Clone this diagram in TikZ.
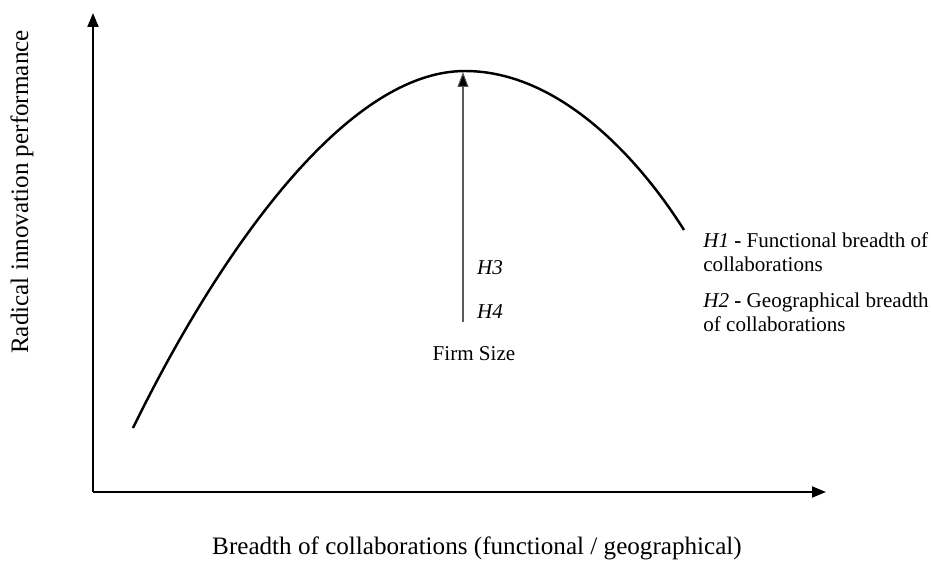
\documentclass[tikz,border=0pt]{standalone}
\usepackage{fontspec}
\setmainfont{Liberation Serif}
\usetikzlibrary{arrows.meta}
\begin{document}
\begin{tikzpicture}[x=0.02cm,y=-0.02cm,
  lbl/.style={font=\fontsize{12}{13.8}\selectfont, inner sep=0pt},
  axislbl/.style={font=\fontsize{14.3}{16}\selectfont, inner sep=0pt},
  axis/.style={line width=1.2pt, -{Triangle[length=0.28cm,width=0.22cm]}}]
\useasboundingbox (0,0) rectangle (931,565);
% axes
\coordinate (origin) at (93,492);
\coordinate (ytip) at (93,13);
\coordinate (xtip) at (826,492);
\draw[axis] (origin) -- (ytip);
\draw[axis] (origin) -- (xtip);

% inverted U curve
\coordinate (cstart) at (133,428);
\coordinate (peak) at (465,71);
\coordinate (cend) at (684,230);
\draw[line width=1.4pt] (cstart) .. controls (210,270) and (340,71) .. (peak);
\draw[line width=1.4pt] (peak) .. controls (560,71) and (640,160) .. (cend);

% moderator arrow
\coordinate (mbase) at (463,322);
\coordinate (mtip) at (463,72);
\draw[gray!70!black, line width=0.6pt, -{Triangle[length=0.3cm,width=0.22cm,fill=black]}] (mbase) -- (mtip);

\node[lbl] (h3) at (490,268) {\textit{H3}};
\node[lbl] (h4) at (490,312) {\textit{H4}};
\node[lbl] (firm) at (474,354) {Firm Size};

\node[lbl, anchor=west, align=left] (h1) at (703,252) {\textit{H1} \textbf{-} Functional breadth of\\collaborations};
\node[lbl, anchor=west, align=left] (h2) at (703,312) {\textit{H2} \textbf{-} Geographical breadth\\of collaborations};

\node[axislbl, rotate=90] (ylab) at (22,192) {Radical innovation performance};
\node[axislbl] (xlab) at (477,548) {Breadth of collaborations (functional / geographical)};
\end{tikzpicture}
\end{document}
